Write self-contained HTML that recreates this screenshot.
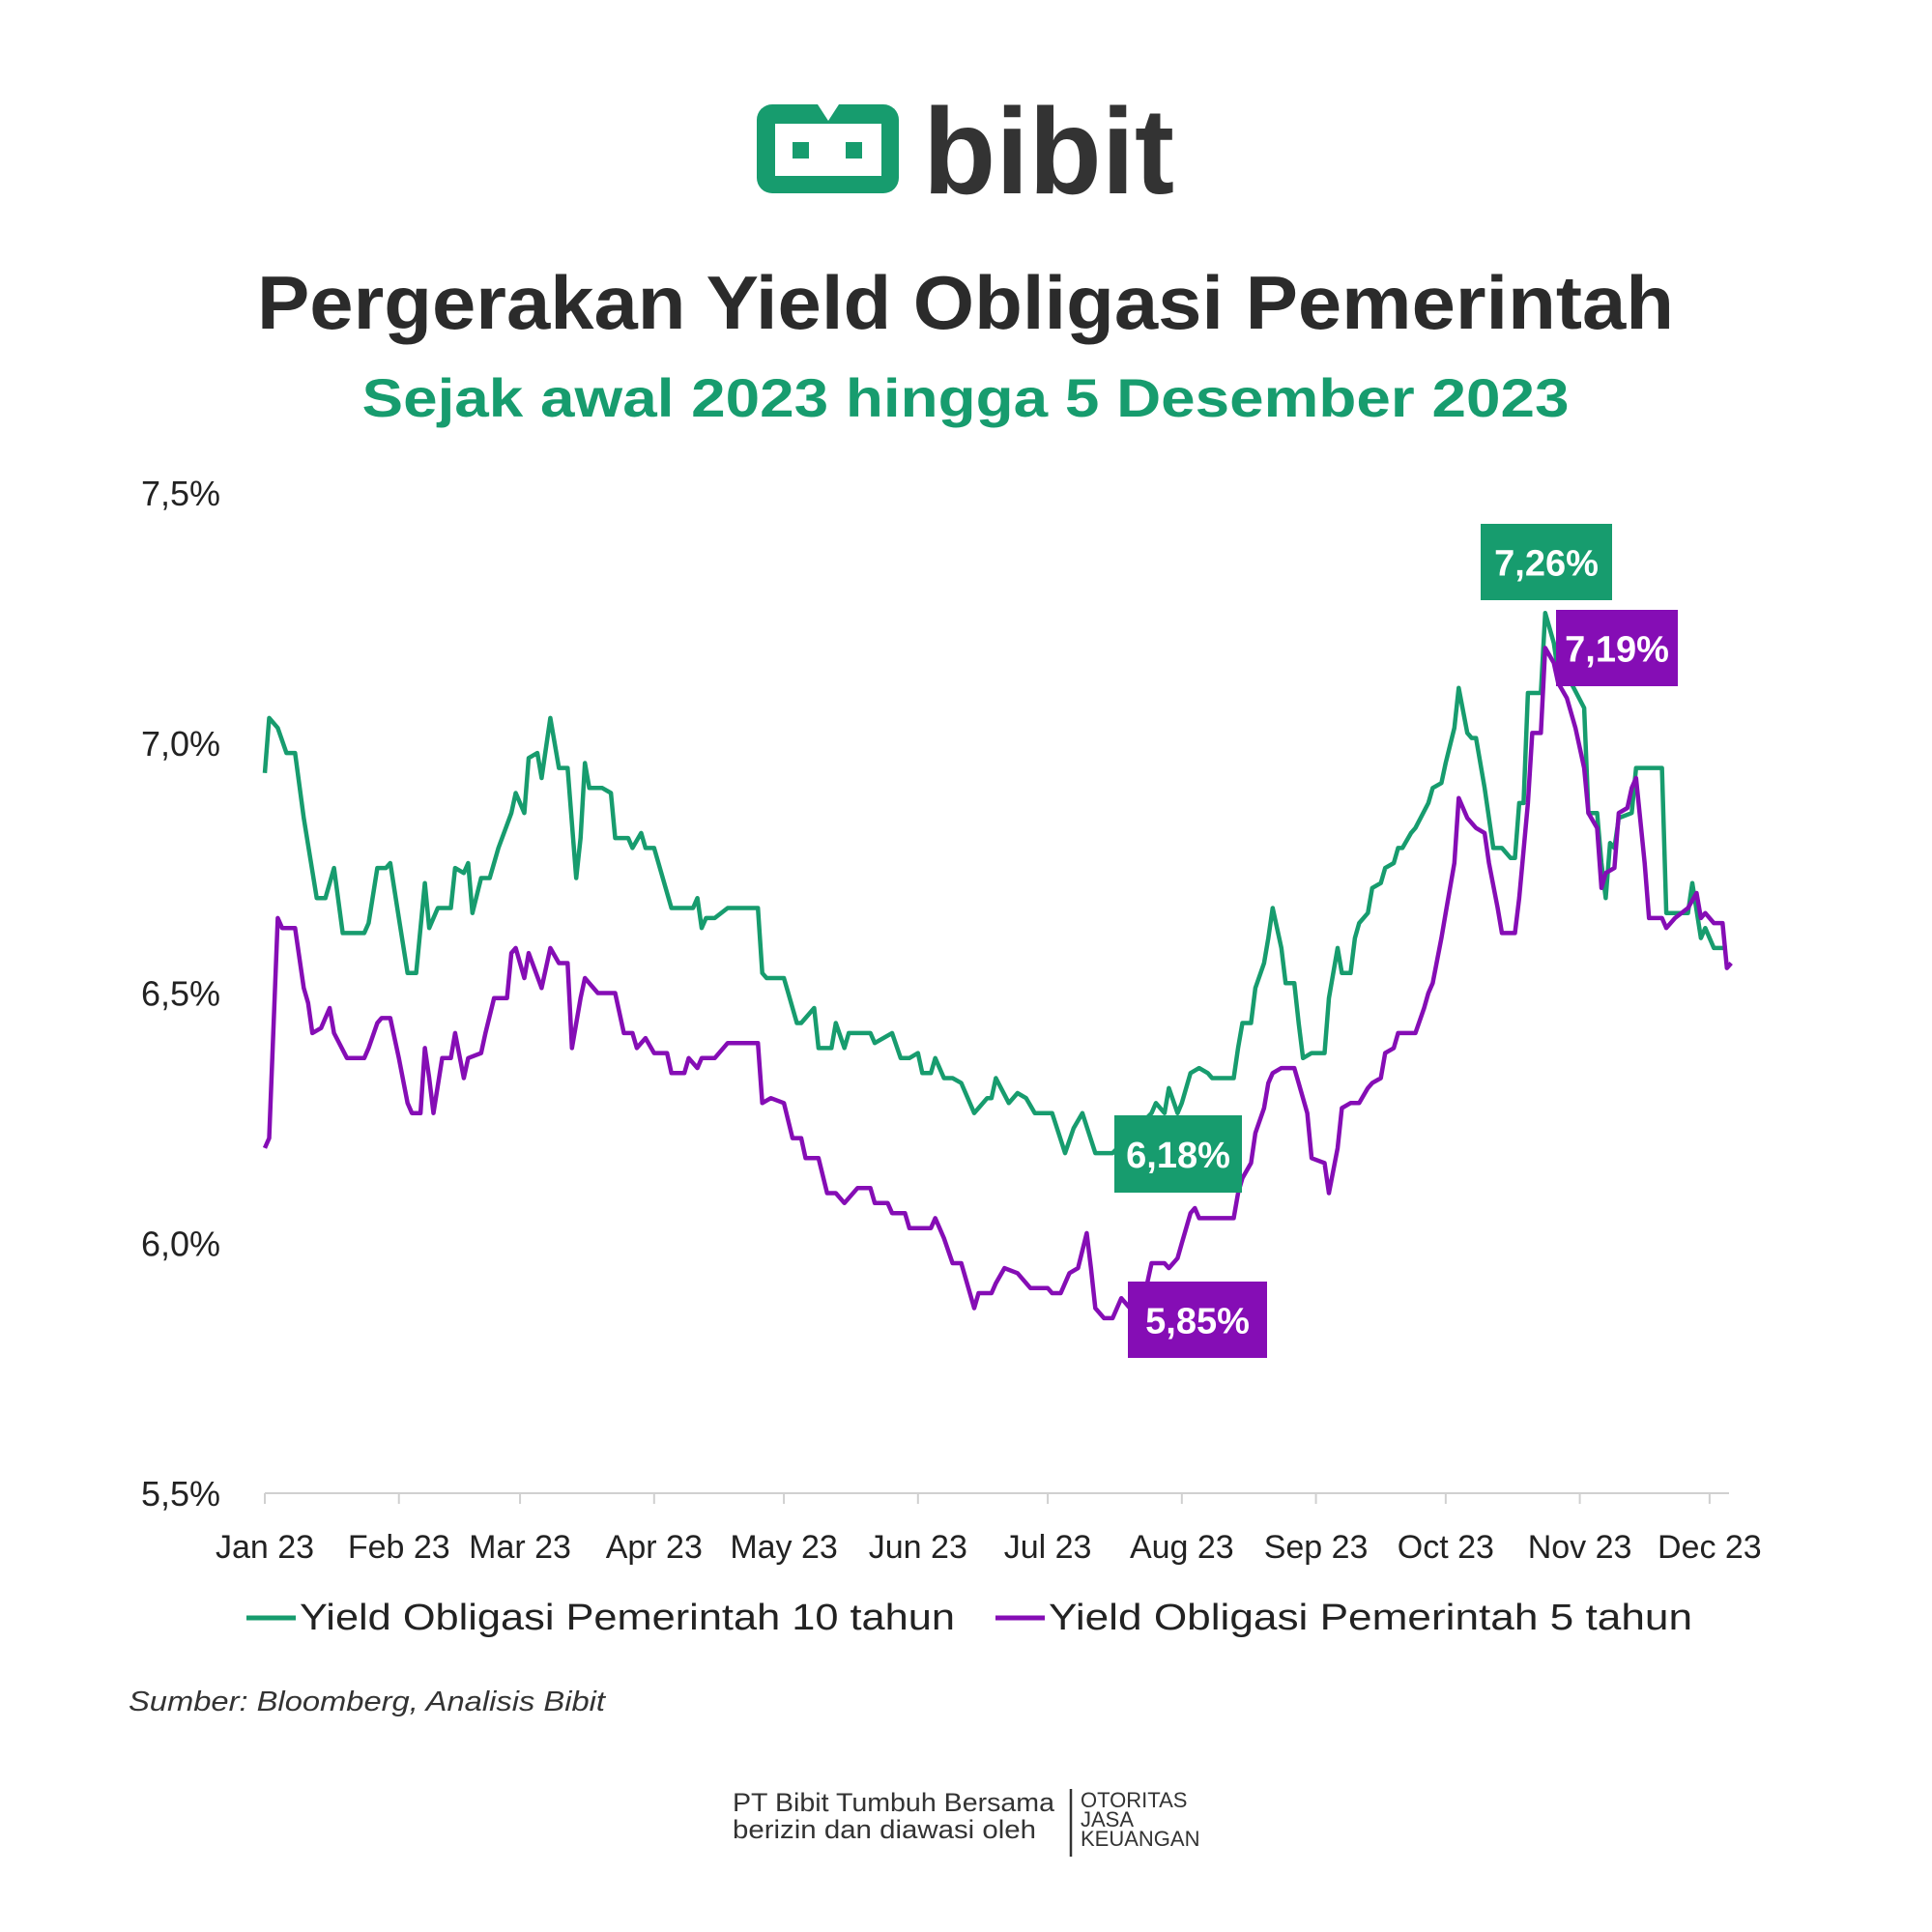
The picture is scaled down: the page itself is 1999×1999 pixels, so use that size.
<!DOCTYPE html>
<html><head><meta charset="utf-8"><style>
html,body{margin:0;padding:0;background:#fff;}
svg{display:block;font-family:"Liberation Sans",sans-serif;}
</style></head><body>
<svg id="chart" width="1999" height="1999" viewBox="0 0 1999 1999" xmlns="http://www.w3.org/2000/svg">
<rect width="1999" height="1999" fill="#fff"/>
<g>
  <rect x="783" y="108" width="147" height="92" rx="16" fill="#179c6e"/>
  <rect x="802" y="128" width="110" height="54" fill="#fff"/>
  <polygon points="846,108 868,108 857,125" fill="#fff"/>
  <rect x="820" y="147" width="17" height="17" fill="#179c6e"/>
  <rect x="875" y="147" width="17" height="17" fill="#179c6e"/>
  <text x="955" y="200" font-size="126" font-weight="bold" fill="#333" textLength="260" lengthAdjust="spacingAndGlyphs">bibit</text>
</g>
<text x="999" y="340" text-anchor="middle" font-size="78" font-weight="bold" fill="#2b2b2b" textLength="1466" lengthAdjust="spacingAndGlyphs">Pergerakan Yield Obligasi Pemerintah</text>
<text x="999" y="431" text-anchor="middle" font-size="56" font-weight="bold" fill="#179c6e" textLength="1249" lengthAdjust="spacingAndGlyphs">Sejak awal 2023 hingga 5 Desember 2023</text>
<g id="yaxis"></g>
<g id="xaxis"></g>
<g id="series"></g>
<g id="labels"></g>
<g>
  <g>
    <line x1="255" y1="1674" x2="306" y2="1674" stroke="#179c6e" stroke-width="5"/>
    <text x="310" y="1686" font-size="38" fill="#222" textLength="678" lengthAdjust="spacingAndGlyphs">Yield Obligasi Pemerintah 10 tahun</text>
  </g>
  <g>
    <line x1="1030" y1="1674" x2="1081" y2="1674" stroke="#850db5" stroke-width="5"/>
    <text x="1085" y="1686" font-size="38" fill="#222" textLength="666" lengthAdjust="spacingAndGlyphs">Yield Obligasi Pemerintah 5 tahun</text>
  </g>
</g>
<text x="133" y="1770" font-size="29" font-style="italic" fill="#333" textLength="493" lengthAdjust="spacingAndGlyphs">Sumber: Bloomberg, Analisis Bibit</text>
<g>
  <text x="758" y="1874" font-size="27" fill="#333" textLength="333" lengthAdjust="spacingAndGlyphs">PT Bibit Tumbuh Bersama</text>
  <text x="758" y="1902" font-size="27" fill="#333" textLength="314" lengthAdjust="spacingAndGlyphs">berizin dan diawasi oleh</text>
  <line x1="1108" y1="1851" x2="1108" y2="1921" stroke="#333" stroke-width="2.5"/>
  <text x="1118" y="1870" font-size="22" fill="#333">OTORITAS</text>
  <text x="1118" y="1890" font-size="22" fill="#333">JASA</text>
  <text x="1118" y="1910" font-size="22" fill="#333">KEUANGAN</text>
</g>
</svg>
<script>
const yTicks=[7.5,7.0,6.5,6.0,5.5];
const yTickLabels=["7,5%","7,0%","6,5%","6,0%","5,5%"];
const months=["Jan 23","Feb 23","Mar 23","Apr 23","May 23","Jun 23","Jul 23","Aug 23","Sep 23","Oct 23","Nov 23","Dec 23"];
const monthDays=[0,31,59,90,120,151,181,212,243,273,304,334];
const days10=[0,1,3,5,7,9,12,14,16,18,23,24,26,28,29,31,33,35,37,38,40,43,44,46,47,48,50,52,54,57,58,60,61,63,64,66,68,70,72,73,74,75,78,80,81,84,85,87,88,90,91,94,95,99,100,101,102,104,107,114,115,116,120,121,123,124,127,128,131,132,134,135,140,141,145,147,149,151,152,154,155,157,159,161,164,167,168,169,172,174,176,178,182,185,187,189,192,196,205,206,208,209,211,212,214,216,218,219,224,225,226,228,229,231,232,233,235,236,238,239,240,242,245,246,248,249,251,252,253,255,256,258,259,261,262,263,265,266,269,270,272,273,275,276,278,279,280,282,284,286,288,289,290,291,292,295,296,298,299,302,305,306,308,309,310,311,312,313,316,317,323,324,325,329,330,332,333,335,338];
const vals10=[6.94,7.05,7.03,6.98,6.98,6.85,6.69,6.69,6.75,6.62,6.62,6.64,6.75,6.75,6.76,6.65,6.54,6.54,6.72,6.63,6.67,6.67,6.75,6.74,6.76,6.66,6.73,6.73,6.79,6.86,6.90,6.86,6.97,6.98,6.93,7.05,6.95,6.95,6.73,6.81,6.96,6.91,6.91,6.90,6.81,6.81,6.79,6.82,6.79,6.79,6.76,6.67,6.67,6.67,6.69,6.63,6.65,6.65,6.67,6.67,6.54,6.53,6.53,6.50,6.44,6.44,6.47,6.39,6.39,6.44,6.39,6.42,6.42,6.40,6.42,6.37,6.37,6.38,6.34,6.34,6.37,6.33,6.33,6.32,6.26,6.29,6.29,6.33,6.28,6.30,6.29,6.26,6.26,6.18,6.23,6.26,6.18,6.18,6.26,6.28,6.26,6.31,6.26,6.28,6.34,6.35,6.34,6.33,6.33,6.39,6.44,6.44,6.51,6.56,6.61,6.67,6.59,6.52,6.52,6.44,6.37,6.38,6.38,6.49,6.59,6.54,6.54,6.61,6.64,6.66,6.71,6.72,6.75,6.76,6.79,6.79,6.82,6.83,6.88,6.91,6.92,6.96,7.03,7.11,7.02,7.01,7.01,6.91,6.79,6.79,6.77,6.77,6.88,6.88,7.10,7.10,7.26,7.20,7.14,7.12,7.07,6.86,6.86,6.76,6.69,6.80,6.79,6.85,6.86,6.95,6.95,6.66,6.66,6.66,6.72,6.61,6.63,6.59,6.59];
const days5=[0,1,3,4,7,9,10,11,13,15,16,19,23,24,26,27,29,31,33,34,36,37,38,39,41,43,44,46,47,50,51,53,56,57,58,60,61,64,66,68,70,71,73,74,77,81,83,85,86,88,90,93,94,97,98,100,101,103,104,107,114,115,117,120,122,124,125,128,130,132,134,137,140,141,144,145,148,149,154,155,157,159,161,164,165,168,169,171,174,177,181,182,184,186,188,190,191,192,194,196,198,200,204,205,208,209,211,212,214,215,216,219,224,225,226,228,229,231,232,233,235,238,239,241,242,245,246,248,249,251,253,255,256,258,259,261,262,266,268,269,270,272,273,275,276,278,280,282,283,285,286,289,290,292,293,295,296,298,299,301,303,305,306,308,309,310,312,313,315,316,317,319,320,323,324,326,329,331,332,333,335,337,338,339];
const vals5=[6.19,6.21,6.65,6.63,6.63,6.51,6.48,6.42,6.43,6.47,6.42,6.37,6.37,6.39,6.44,6.45,6.45,6.37,6.28,6.26,6.26,6.39,6.33,6.26,6.37,6.37,6.42,6.33,6.37,6.38,6.42,6.49,6.49,6.58,6.59,6.53,6.58,6.51,6.59,6.56,6.56,6.39,6.49,6.53,6.50,6.50,6.42,6.42,6.39,6.41,6.38,6.38,6.34,6.34,6.37,6.35,6.37,6.37,6.37,6.40,6.40,6.28,6.29,6.28,6.21,6.21,6.17,6.17,6.10,6.10,6.08,6.11,6.11,6.08,6.08,6.06,6.06,6.03,6.03,6.05,6.01,5.96,5.96,5.87,5.90,5.90,5.92,5.95,5.94,5.91,5.91,5.90,5.90,5.94,5.95,6.02,5.95,5.87,5.85,5.85,5.89,5.87,5.92,5.96,5.96,5.95,5.97,6.00,6.06,6.07,6.05,6.05,6.05,6.10,6.13,6.16,6.22,6.27,6.32,6.34,6.35,6.35,6.32,6.26,6.17,6.16,6.10,6.19,6.27,6.28,6.28,6.31,6.32,6.33,6.38,6.39,6.42,6.42,6.47,6.50,6.52,6.61,6.66,6.76,6.89,6.85,6.83,6.82,6.76,6.67,6.62,6.62,6.69,6.88,7.02,7.02,7.19,7.16,7.12,7.09,7.03,6.95,6.86,6.83,6.71,6.74,6.75,6.86,6.87,6.91,6.93,6.76,6.65,6.65,6.63,6.65,6.67,6.70,6.65,6.66,6.64,6.64,6.55,6.56];

const NS="http://www.w3.org/2000/svg";
const X0=274, X1=1789, D1=338.5, YTOP=510, YPER=517.5;
function xs(d){return X0+d*(X1-X0)/D1;}
function ys(v){return YTOP+(7.5-v)*YPER;}
function mk(tag,attrs,parent){const e=document.createElementNS(NS,tag);for(const k in attrs)e.setAttribute(k,attrs[k]);parent.appendChild(e);return e;}

const ya=document.getElementById('yaxis');
yTicks.forEach((t,i)=>{
  const el=mk('text',{x:228,y:ys(t)+13,'text-anchor':'end','font-size':36,fill:'#222'},ya);
  
  
  el.textContent=yTickLabels[i];
});
const xa=document.getElementById('xaxis');
const axl=mk('line',{x1:X0,y1:ys(5.5),x2:X1,y2:ys(5.5),stroke:'#d0d0d0','stroke-width':2},xa);


months.forEach((m,i)=>{
  const x=xs(monthDays[i]);
  const tk=mk('line',{x1:x,y1:ys(5.5),x2:x,y2:ys(5.5)+11,stroke:'#d0d0d0','stroke-width':2},xa);
  
  
  const el=mk('text',{x:x,y:1612,'text-anchor':'middle','font-size':34,fill:'#222'},xa);
  
  
  el.textContent=m;
});
const sg=document.getElementById('series');
function line(days,vals,color,name){
  const d=days.map((dd,i)=>(i?'L':'M')+xs(dd).toFixed(1)+','+ys(vals[i]).toFixed(1)).join(' ');
  const p=mk('path',{d:d,fill:'none',stroke:color,'stroke-width':4.5,'stroke-linejoin':'round'},sg);
  
  
}
line(days10,vals10,'#179c6e','line-10-year');
line(days5,vals5,'#850db5','line-5-year');

const lg=document.getElementById('labels');
function fmt(v){return v.toFixed(2).replace('.',',')+'%';}
function box(x,y,w,h,color,v,name){
  const g=mk('g',{},lg);
  
  
  mk('rect',{x:x,y:y,width:w,height:h,fill:color},g);
  const t=mk('text',{x:x+w/2,y:y+h/2+14,'text-anchor':'middle','font-size':38,'font-weight':'bold',fill:'#fff'},g);
  t.textContent=fmt(v);
}
box(1532,542,136,79,'#179c6e',Math.max(...vals10),'max-10y-label');
box(1610,631,126,79,'#850db5',Math.max(...vals5),'max-5y-label');
box(1153,1154,132,80,'#179c6e',Math.min(...vals10),'min-10y-label');
box(1167,1326,144,79,'#850db5',Math.min(...vals5),'min-5y-label');
</script>
</body></html>
